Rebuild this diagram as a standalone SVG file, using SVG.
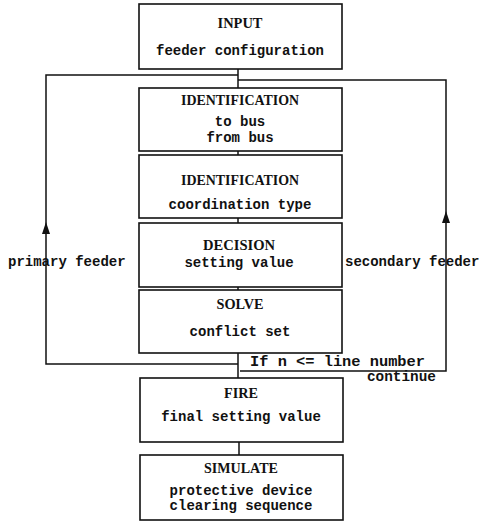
<svg xmlns="http://www.w3.org/2000/svg" width="494" height="523" viewBox="0 0 494 523">
<style>
.box{fill:#fff;stroke:#111;stroke-width:1.6}
.ln{fill:none;stroke:#111;stroke-width:1.5}
.h{font-family:"Liberation Serif",serif;font-weight:bold;font-size:15px;fill:#111;text-anchor:middle}
.t{font-family:"Liberation Mono",monospace;font-weight:bold;font-size:14px;fill:#111;text-anchor:middle}
.l{font-family:"Liberation Mono",monospace;font-weight:bold;font-size:14px;fill:#111}
</style>
<g id="connectors">
<line class="ln" x1="238" y1="69" x2="238" y2="88"/>
<polyline class="ln" points="238,75 46,75 46,364 238,364"/>
<polyline class="ln" points="238,80 446,80 446,371 240,371"/>
<line class="ln" x1="238" y1="151" x2="238" y2="155"/>
<line class="ln" x1="238" y1="218" x2="238" y2="223"/>
<line class="ln" x1="238" y1="287" x2="238" y2="290"/>
<line class="ln" x1="238" y1="353" x2="238" y2="378"/>
<line class="ln" x1="239" y1="442" x2="239" y2="455"/>
<path d="M42,234 L50,234 L46,222 Z" fill="#111"/>
<path d="M442,223 L450,223 L446,211 Z" fill="#111"/>
<text class="l" x="8" y="266">primary feeder</text>
<text class="l" x="345" y="266">secondary feeder</text>
<text class="l" x="250" y="366" textLength="175" lengthAdjust="spacingAndGlyphs">If n &lt;= line number</text>
<text class="l" x="367" y="381" textLength="69" lengthAdjust="spacingAndGlyphs">continue</text>
</g>
<g id="input">
<rect class="box" x="139" y="4" width="203" height="65"/>
<text class="h" x="240" y="28" textLength="45" lengthAdjust="spacingAndGlyphs">INPUT</text>
<text class="t" x="240" y="55" textLength="168" lengthAdjust="spacingAndGlyphs">feeder configuration</text>
</g>
<g id="ident1">
<rect class="box" x="139" y="88" width="203" height="63"/>
<text class="h" x="240" y="105" textLength="118" lengthAdjust="spacingAndGlyphs">IDENTIFICATION</text>
<text class="t" x="240" y="126">to bus</text>
<text class="t" x="240" y="142">from bus</text>
</g>
<g id="ident2">
<rect class="box" x="139" y="155" width="203" height="63"/>
<text class="h" x="240" y="185" textLength="118" lengthAdjust="spacingAndGlyphs">IDENTIFICATION</text>
<text class="t" x="240" y="209">coordination type</text>
</g>
<g id="decision">
<rect class="box" x="139" y="223" width="203" height="64"/>
<text class="h" x="239" y="250" textLength="72" lengthAdjust="spacingAndGlyphs">DECISION</text>
<text class="t" x="239" y="267">setting value</text>
</g>
<g id="solve">
<rect class="box" x="139" y="290" width="203" height="63"/>
<text class="h" x="240" y="309" textLength="47" lengthAdjust="spacingAndGlyphs">SOLVE</text>
<text class="t" x="240" y="336">conflict set</text>
</g>
<g id="fire">
<rect class="box" x="140" y="378" width="203" height="64"/>
<text class="h" x="241" y="398" textLength="34" lengthAdjust="spacingAndGlyphs">FIRE</text>
<text class="t" x="241" y="421">final setting value</text>
</g>
<g id="simulate">
<rect class="box" x="140" y="455" width="203" height="65"/>
<text class="h" x="241" y="473" textLength="74" lengthAdjust="spacingAndGlyphs">SIMULATE</text>
<text class="t" x="241" y="495">protective device</text>
<text class="t" x="241" y="510">clearing sequence</text>
</g>
</svg>
